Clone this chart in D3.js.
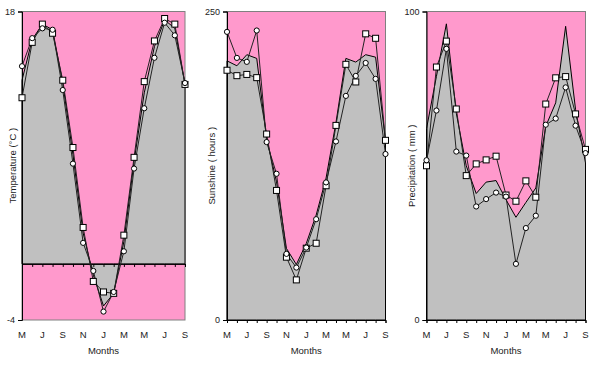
<!DOCTYPE html>
<html>
<head>
<meta charset="utf-8">
<script src="https://cdn.jsdelivr.net/npm/d3@7"></script>
<style>
  html, body { margin: 0; padding: 0; background: #fff; }
  svg { display: block; }
  text { font-family: "Liberation Sans", Arial, sans-serif; fill: #222; }
</style>
</head>
<body>
<svg id="chart" width="600" height="368"></svg>
<script>
// ---- Data ----
const months = ["M","J","J","A","S","O","N","D","J","F","M","A","M","J","J","A","S"];

const tempArea   = [13.1, 16.0, 17.1, 16.7, 12.9, 7.8, 2.2, -0.8, -3.0, -2.1, 1.6, 7.3, 12.2, 15.5, 17.4, 16.8, 12.8];
const tempCircle = [14.1, 16.1, 16.8, 16.7, 12.4, 7.15, 1.5, -0.5, -3.4, -2.0, 0.9, 6.8, 11.1, 14.7, 17.2, 16.3, 12.9];
const tempSquare = [11.85, 15.8, 17.1, 16.45, 13.1, 8.3, 2.6, -1.25, -2.0, -2.1, 2.05, 7.6, 13.0, 15.9, 17.5, 17.1, 12.8];

const sunArea   = [210, 206, 215, 212, 147, 112, 58, 45, 62, 85, 115, 160, 212, 209, 215, 213, 145];
const sunCircle = [233.5, 212.4, 209.2, 234.6, 144.2, 118.5, 53.6, 42.5, 58.7, 81.7, 111.5, 144.7, 181.6, 197.8, 208.3, 195.4, 134.5];
const sunSquare = [202.4, 198, 199, 196.4, 150.7, 105, 50.9, 32.5, 58.2, 62.2, 108.8, 157.7, 207.2, 192.9, 231.9, 228.3, 145.6];

const precArea   = [62, 79, 96, 67, 50, 41, 44.7, 45.2, 39, 33.3, 38.1, 42.8, 62.8, 70.4, 95.2, 68.2, 50.9];
const precCircle = [51.8, 67.9, 87.9, 54.6, 53.3, 36.8, 39.2, 41.3, 40, 18.2, 29.8, 33.8, 63.3, 65.3, 75.4, 63, 54.1];
const precSquare = [50, 82, 90.4, 68.4, 46.8, 50.6, 51.9, 53.1, 40.5, 38.5, 45.1, 39.8, 70, 78.5, 78.9, 66.8, 55.3];

const yTitles = ["Temperature (°C )", "Sunshine ( hours )", "Precipitation ( mm )"];
const yDomains = [[-4, 18], [0, 250], [0, 100]];
const yTickLabels = [["-4", "18"], ["0", "250"], ["0", "100"]];
const xTitle = "Months";

// ---- Layout ----
const panels = [
  { x0: 22,  x1: 185,   title: yTitles[0], dom: yDomains[0], ticks: yTickLabels[0], area: tempArea, circ: tempCircle, sq: tempSquare, titleX: 13 },
  { x0: 227, x1: 385.5, title: yTitles[1], dom: yDomains[1], ticks: yTickLabels[1], area: sunArea,  circ: sunCircle,  sq: sunSquare,  titleX: 212 },
  { x0: 426.5, x1: 585.5, title: yTitles[2], dom: yDomains[2], ticks: yTickLabels[2], area: precArea, circ: precCircle, sq: precSquare, titleX: 412 }
];
const yTop = 11.5, yBot = 320;
const PINK = "#FF99CC", GREY = "#C0C0C0";

const svg = d3.select("#chart");

panels.forEach(p => {
  const g = svg.append("g");
  const x = d3.scaleLinear().domain([0, months.length - 1]).range([p.x0, p.x1]);
  const y = d3.scaleLinear().domain(p.dom).range([yBot, yTop]);
  const base = y(Math.max(0, p.dom[0]));

  // plot background
  g.append("rect").attr("x", p.x0).attr("y", yTop)
    .attr("width", p.x1 - p.x0).attr("height", yBot - yTop)
    .attr("fill", PINK).attr("stroke", "#808080").attr("stroke-width", 1);

  // area series
  const area = d3.area().x((d, i) => x(i)).y0(base).y1(d => y(d));
  g.append("path").datum(p.area).attr("d", area)
    .attr("fill", GREY).attr("stroke", "#000").attr("stroke-width", 1);

  // x axis at zero / bottom
  const xAxis = d3.axisBottom(x).tickValues(d3.range(months.length)).tickSize(3).tickFormat("");
  const ax = g.append("g").attr("transform", `translate(0,${base})`).call(xAxis);
  ax.select(".domain").attr("stroke", "#000");
  ax.selectAll(".tick line").attr("stroke", "#000");

  // y axis
  const yAxis = d3.axisLeft(y).tickValues(p.dom).tickSize(4).tickFormat((d, i) => p.ticks[i]);
  const ay = g.append("g").attr("transform", `translate(${p.x0},0)`).call(yAxis);
  ay.select(".domain").attr("stroke", "#000");
  ay.selectAll(".tick line").attr("stroke", "#000");
  ay.selectAll(".tick text").attr("font-size", 9).attr("x", -7)
    .attr("font-family", "'Liberation Sans', Arial, sans-serif").attr("fill", "#222");

  // month labels along the bottom
  g.selectAll("text.mlab").data(months.map((m, i) => ({ m, i })).filter(d => d.i % 2 === 0))
    .enter().append("text").attr("class", "mlab")
    .attr("x", d => x(d.i)).attr("y", 338)
    .attr("text-anchor", "middle").attr("font-size", 9.5)
    .text(d => d.m);

  // x title
  g.append("text").attr("x", (p.x0 + p.x1) / 2).attr("y", 354)
    .attr("text-anchor", "middle").attr("font-size", 9.5).text(xTitle);

  // y title
  g.append("text").attr("transform", `translate(${p.titleX},${(yTop + yBot) / 2}) rotate(-90)`)
    .attr("text-anchor", "middle").attr("dy", "0.35em").attr("font-size", 9.5).text(p.title);

  // lines
  const line = d3.line().x((d, i) => x(i)).y(d => y(d));
  g.append("path").datum(p.circ).attr("d", line).attr("fill", "none")
    .attr("stroke", "#222").attr("stroke-width", 1);
  g.append("path").datum(p.sq).attr("d", line).attr("fill", "none")
    .attr("stroke", "#222").attr("stroke-width", 1);

  // markers
  g.selectAll("rect.sq").data(p.sq).enter().append("rect").attr("class", "sq")
    .attr("x", (d, i) => x(i) - 3).attr("y", d => y(d) - 3)
    .attr("width", 6).attr("height", 6)
    .attr("fill", "#fff").attr("stroke", "#000").attr("stroke-width", 1);
  g.selectAll("circle.ci").data(p.circ).enter().append("circle").attr("class", "ci")
    .attr("cx", (d, i) => x(i)).attr("cy", d => y(d)).attr("r", 2.6)
    .attr("fill", "#fff").attr("stroke", "#000").attr("stroke-width", 1);
});
</script>
</body>
</html>
